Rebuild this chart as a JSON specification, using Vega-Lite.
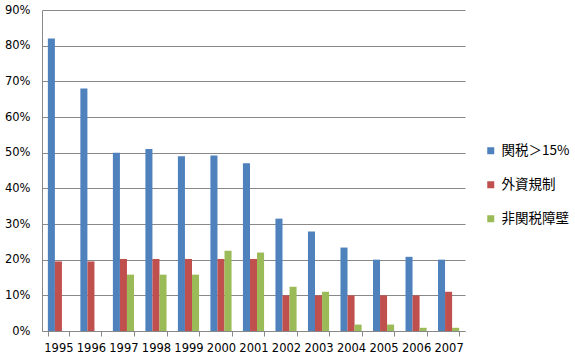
{
  "$schema": "https://vega.github.io/schema/vega-lite/v6.json",
  "width": 423,
  "height": 321,
  "autosize": {"type": "none"},
  "padding": {"left": 42, "top": 10, "right": 110, "bottom": 29},
  "background": "white",
  "data": {
    "values": [
      {"year": "1995", "s": "関税＞15%", "v": 0.82},
      {"year": "1995", "s": "外資規制", "v": 0.195},
      {"year": "1995", "s": "非関税障壁", "v": 0},
      {"year": "1996", "s": "関税＞15%", "v": 0.68},
      {"year": "1996", "s": "外資規制", "v": 0.195},
      {"year": "1996", "s": "非関税障壁", "v": 0},
      {"year": "1997", "s": "関税＞15%", "v": 0.50},
      {"year": "1997", "s": "外資規制", "v": 0.202},
      {"year": "1997", "s": "非関税障壁", "v": 0.158},
      {"year": "1998", "s": "関税＞15%", "v": 0.51},
      {"year": "1998", "s": "外資規制", "v": 0.202},
      {"year": "1998", "s": "非関税障壁", "v": 0.158},
      {"year": "1999", "s": "関税＞15%", "v": 0.49},
      {"year": "1999", "s": "外資規制", "v": 0.202},
      {"year": "1999", "s": "非関税障壁", "v": 0.158},
      {"year": "2000", "s": "関税＞15%", "v": 0.492},
      {"year": "2000", "s": "外資規制", "v": 0.202},
      {"year": "2000", "s": "非関税障壁", "v": 0.225},
      {"year": "2001", "s": "関税＞15%", "v": 0.47},
      {"year": "2001", "s": "外資規制", "v": 0.202},
      {"year": "2001", "s": "非関税障壁", "v": 0.22},
      {"year": "2002", "s": "関税＞15%", "v": 0.315},
      {"year": "2002", "s": "外資規制", "v": 0.10},
      {"year": "2002", "s": "非関税障壁", "v": 0.124},
      {"year": "2003", "s": "関税＞15%", "v": 0.279},
      {"year": "2003", "s": "外資規制", "v": 0.10},
      {"year": "2003", "s": "非関税障壁", "v": 0.11},
      {"year": "2004", "s": "関税＞15%", "v": 0.234},
      {"year": "2004", "s": "外資規制", "v": 0.10},
      {"year": "2004", "s": "非関税障壁", "v": 0.018},
      {"year": "2005", "s": "関税＞15%", "v": 0.20},
      {"year": "2005", "s": "外資規制", "v": 0.10},
      {"year": "2005", "s": "非関税障壁", "v": 0.018},
      {"year": "2006", "s": "関税＞15%", "v": 0.208},
      {"year": "2006", "s": "外資規制", "v": 0.10},
      {"year": "2006", "s": "非関税障壁", "v": 0.009},
      {"year": "2007", "s": "関税＞15%", "v": 0.20},
      {"year": "2007", "s": "外資規制", "v": 0.11},
      {"year": "2007", "s": "非関税障壁", "v": 0.009}
    ]
  },
  "mark": {"type": "bar"},
  "encoding": {
    "x": {
      "field": "year", "type": "nominal",
      "scale": {"paddingInner": 0.35, "paddingOuter": 0.18},
      "axis": {
        "title": null, "labelAngle": 0, "tickBand": "extent",
        "labelFont": "DejaVu Sans", "labelFontSize": 11.5, "labelColor": "#000",
        "domainColor": "#888", "tickColor": "#888", "tickSize": 5,
        "labelPadding": 6, "grid": false
      }
    },
    "xOffset": {"field": "s", "type": "nominal", "scale": {"domain": ["関税＞15%", "外資規制", "非関税障壁"]}},
    "y": {
      "field": "v", "type": "quantitative",
      "scale": {"domain": [0, 0.9], "nice": false},
      "axis": {
        "title": null, "format": ".0%", "values": [0, 0.1, 0.2, 0.3, 0.4, 0.5, 0.6, 0.7, 0.8, 0.9],
        "labelFont": "DejaVu Sans", "labelFontSize": 11.5, "labelColor": "#000",
        "ticks": false, "labelPadding": 12, "domainColor": "#888",
        "gridColor": "#888", "gridOpacity": 1
      }
    },
    "color": {
      "field": "s", "type": "nominal",
      "scale": {"domain": ["関税＞15%", "外資規制", "非関税障壁"], "range": ["#4F81BD", "#C0504D", "#9BBB59"]},
      "legend": {
        "title": null, "orient": "none", "legendX": 442, "legendY": 134,
        "symbolType": "square", "symbolSize": 49, "symbolStrokeWidth": 0,
        "labelFont": "Noto Sans CJK JP", "labelFontSize": 13.5, "labelColor": "#000",
        "rowPadding": 19, "labelOffset": 4
      }
    }
  },
  "config": {"view": {"stroke": null}}
}
